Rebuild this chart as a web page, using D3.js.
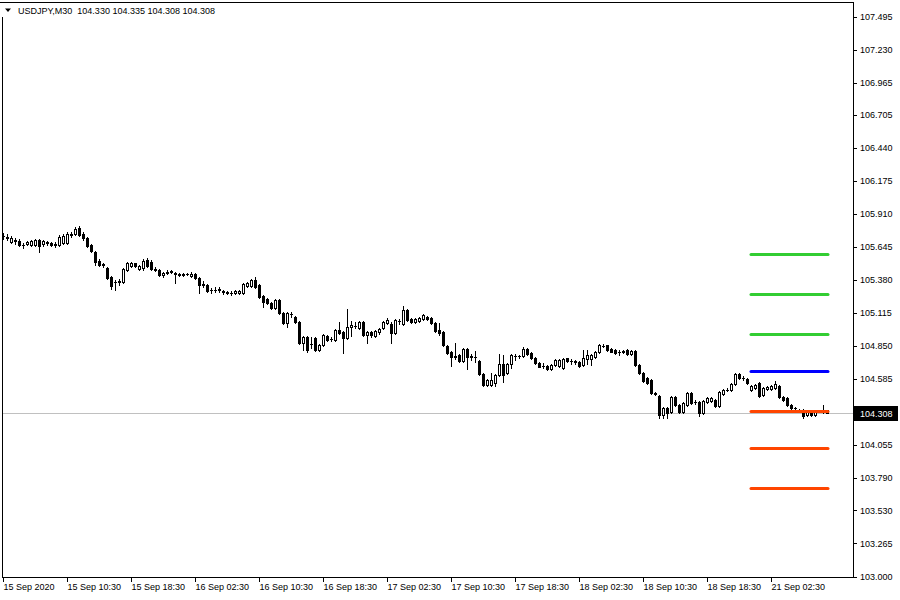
<!DOCTYPE html>
<html><head><meta charset="utf-8">
<script src="https://cdn.jsdelivr.net/npm/d3@7"></script>
<style>
html,body{margin:0;padding:0;background:#fff;}
svg{display:block;}
text{font-family:"Liberation Sans",Arial,sans-serif;font-size:9px;}
</style></head><body>
<svg id="c" width="900" height="600"></svg>
<script>
const symbolTitle = "USDJPY,M30";

const opens = [
105.726,105.718,105.678,105.694,105.686,105.654,105.662,105.654,105.654,105.694,
105.662,105.678,105.670,105.662,105.654,105.670,105.670,105.734,105.742,105.790,
105.742,105.710,105.654,105.598,105.526,105.502,105.470,105.398,105.358,105.358,
105.358,105.454,105.486,105.510,105.462,105.470,105.534,105.518,105.462,105.454,
105.414,105.438,105.438,105.430,105.414,105.422,105.422,105.406,105.422,105.390,
105.342,105.334,105.294,105.294,105.294,105.286,105.278,105.270,105.270,105.270,
105.270,105.326,105.326,105.374,105.334,105.246,105.222,105.190,105.150,105.214,
105.110,105.030,105.102,105.078,105.038,104.870,104.918,104.862,104.910,104.814,
104.854,104.926,104.902,104.894,104.974,104.958,104.910,104.998,105.006,104.990,
105.038,104.934,104.958,104.926,104.958,104.990,105.030,105.022,104.950,105.046,
105.022,105.134,105.062,105.038,105.046,105.062,105.078,105.070,105.030,104.974,
104.958,104.846,104.798,104.764,104.774,104.726,104.822,104.766,104.758,104.726,
104.622,104.534,104.534,104.550,104.614,104.702,104.630,104.702,104.766,104.766,
104.766,104.822,104.790,104.750,104.710,104.686,104.686,104.662,104.694,104.686,
104.670,104.750,104.726,104.726,104.718,104.694,104.742,104.742,104.758,104.798,
104.846,104.854,104.822,104.814,104.798,104.806,104.814,104.782,104.806,104.694,
104.630,104.590,104.574,104.470,104.446,104.294,104.350,104.318,104.438,104.374,
104.318,104.374,104.470,104.398,104.398,104.310,104.398,104.406,104.414,104.366,
104.462,104.494,104.494,104.542,104.622,104.590,104.582,104.494,104.510,104.550,
104.454,104.502,104.502,104.510,104.526,104.438,104.430,104.374,104.350,104.334,
104.334,104.294,104.326,104.294,104.326,104.318,104.330];

const highs = [
105.750,105.742,105.726,105.710,105.702,105.670,105.686,105.694,105.702,105.702,
105.694,105.686,105.678,105.678,105.734,105.742,105.758,105.758,105.798,105.806,
105.758,105.718,105.662,105.606,105.542,105.510,105.478,105.406,105.374,105.382,
105.470,105.518,105.518,105.512,105.494,105.542,105.550,105.534,105.478,105.462,
105.438,105.454,105.454,105.438,105.430,105.430,105.430,105.438,105.430,105.398,
105.366,105.342,105.310,105.318,105.318,105.294,105.286,105.286,105.294,105.294,
105.350,105.358,105.382,105.398,105.342,105.254,105.230,105.198,105.222,105.222,
105.118,105.118,105.118,105.086,105.046,104.926,104.926,104.918,104.918,104.862,
104.942,104.934,104.918,104.982,105.038,104.966,105.142,105.046,105.038,105.046,
105.046,104.966,104.966,104.974,104.990,105.046,105.070,105.038,105.062,105.062,
105.166,105.142,105.070,105.070,105.078,105.102,105.086,105.078,105.038,105.030,
104.966,104.854,104.806,104.870,104.782,104.830,104.830,104.782,104.806,104.734,
104.630,104.582,104.630,104.622,104.782,104.774,104.710,104.782,104.782,104.774,
104.838,104.830,104.798,104.758,104.718,104.710,104.694,104.702,104.742,104.742,
104.750,104.752,104.742,104.734,104.726,104.814,104.814,104.782,104.806,104.862,
104.862,104.856,104.830,104.822,104.814,104.814,104.822,104.814,104.814,104.702,
104.638,104.598,104.582,104.478,104.454,104.358,104.358,104.446,104.446,104.382,
104.398,104.478,104.478,104.414,104.406,104.414,104.438,104.438,104.422,104.486,
104.502,104.510,104.550,104.630,104.630,104.606,104.590,104.534,104.542,104.558,
104.518,104.526,104.534,104.566,104.534,104.446,104.438,104.382,104.358,104.342,
104.342,104.326,104.334,104.334,104.334,104.374,104.335];

const lows = [
105.702,105.694,105.670,105.662,105.646,105.630,105.654,105.646,105.646,105.598,
105.646,105.654,105.646,105.638,105.646,105.662,105.662,105.718,105.734,105.726,
105.694,105.638,105.598,105.494,105.486,105.478,105.382,105.302,105.294,105.334,
105.350,105.446,105.478,105.478,105.454,105.454,105.478,105.454,105.446,105.406,
105.398,105.422,105.430,105.350,105.406,105.406,105.414,105.398,105.382,105.270,
105.318,105.278,105.270,105.278,105.278,105.262,105.262,105.254,105.262,105.262,
105.262,105.318,105.318,105.310,105.230,105.158,105.182,105.142,105.142,105.102,
105.022,104.998,105.078,105.030,104.862,104.814,104.798,104.830,104.806,104.806,
104.846,104.886,104.886,104.886,104.942,104.790,104.902,104.926,104.990,104.982,
104.926,104.870,104.918,104.918,104.942,104.982,105.022,104.870,104.942,105.022,
105.014,105.046,105.030,105.030,105.038,105.054,105.054,105.022,104.958,104.934,
104.846,104.782,104.686,104.742,104.718,104.718,104.662,104.734,104.718,104.614,
104.526,104.526,104.526,104.526,104.606,104.558,104.622,104.670,104.734,104.750,
104.758,104.774,104.742,104.702,104.678,104.670,104.654,104.654,104.686,104.678,
104.662,104.718,104.702,104.702,104.678,104.686,104.702,104.694,104.750,104.790,
104.838,104.806,104.798,104.782,104.774,104.790,104.774,104.774,104.686,104.622,
104.558,104.542,104.462,104.454,104.270,104.270,104.270,104.310,104.366,104.310,
104.310,104.366,104.382,104.382,104.286,104.302,104.390,104.398,104.358,104.358,
104.454,104.486,104.486,104.534,104.582,104.574,104.542,104.486,104.502,104.438,
104.446,104.494,104.494,104.502,104.430,104.406,104.366,104.342,104.334,104.318,
104.270,104.286,104.286,104.286,104.318,104.310,104.308];

const closes = [
105.726,105.710,105.710,105.686,105.654,105.654,105.678,105.686,105.694,105.646,
105.686,105.670,105.654,105.660,105.718,105.726,105.742,105.742,105.782,105.734,
105.710,105.646,105.606,105.518,105.494,105.496,105.390,105.326,105.356,105.366,
105.462,105.510,105.510,105.486,105.486,105.526,105.486,105.462,105.460,105.414,
105.430,105.436,105.446,105.422,105.422,105.420,105.424,105.422,105.390,105.334,
105.334,105.286,105.292,105.296,105.302,105.278,105.270,105.268,105.286,105.286,
105.342,105.350,105.374,105.318,105.238,105.198,105.190,105.150,105.214,105.110,
105.030,105.110,105.100,105.038,104.870,104.918,104.814,104.860,104.814,104.854,
104.934,104.894,104.900,104.974,104.950,104.910,104.998,105.014,105.004,105.038,
104.934,104.958,104.934,104.966,104.982,105.038,105.054,104.950,105.054,105.044,
105.134,105.054,105.038,105.062,105.070,105.094,105.062,105.030,104.966,104.950,
104.854,104.790,104.758,104.758,104.726,104.822,104.758,104.760,104.756,104.622,
104.534,104.574,104.574,104.614,104.702,104.614,104.702,104.774,104.764,104.768,
104.822,104.782,104.750,104.710,104.678,104.684,104.662,104.694,104.734,104.734,
104.742,104.726,104.724,104.718,104.686,104.750,104.774,104.774,104.798,104.854,
104.844,104.814,104.798,104.790,104.796,104.798,104.782,104.806,104.694,104.630,
104.566,104.550,104.470,104.462,104.294,104.350,104.310,104.438,104.374,104.318,
104.390,104.470,104.390,104.396,104.310,104.406,104.430,104.430,104.366,104.478,
104.494,104.496,104.542,104.622,104.590,104.588,104.550,104.526,104.534,104.446,
104.510,104.518,104.526,104.542,104.438,104.414,104.374,104.350,104.348,104.332,
104.286,104.318,104.294,104.326,104.324,104.320,104.308];

const priceTicks = [107.495,107.230,106.965,106.705,106.440,106.175,105.910,105.645,
  105.380,105.115,104.850,104.585,104.055,103.790,103.530,103.265,103.000];
const timeTickIndex = [0,16,32,48,64,80,96,112,128,144,160,176,192];
const timeTickLabels = ["15 Sep 2020","15 Sep 10:30","15 Sep 18:30","16 Sep 02:30",
  "16 Sep 10:30","16 Sep 18:30","17 Sep 02:30","17 Sep 10:30","17 Sep 18:30",
  "18 Sep 02:30","18 Sep 10:30","18 Sep 18:30","21 Sep 02:30"];
const lastPrice = 104.308;
const resistanceLevels = [104.941, 105.262, 105.583];
const pivotLevel = [104.646];
const supportLevels = [104.322, 104.026, 103.704];
const levelStartIndex = 187;

// ---------- drawing ----------
const svg = d3.select("#c");
const n = closes.length;
const x = d3.scaleLinear().domain([0, n - 1]).range([3, 3 + 4 * (n - 1)]);
const y = d3.scaleLinear().domain([103.000, 107.495]).range([576.5, 16.5]);
const px = v => Math.round(x(v));
const py = v => Math.floor(y(v));

const plot = svg.append("g").attr("shape-rendering", "crispEdges");

// bid line
plot.append("line")
  .attr("x1", 3).attr("x2", 853)
  .attr("y1", py(lastPrice) + 0.5).attr("y2", py(lastPrice) + 0.5)
  .attr("stroke", "#C0C0C0");

// candles
const idx = d3.range(n);
const cg = plot.append("g");
const candle = cg.selectAll("g").data(idx).join("g");
candle.append("line")
  .attr("x1", i => px(i) + 0.5).attr("x2", i => px(i) + 0.5)
  .attr("y1", i => py(highs[i])).attr("y2", i => py(lows[i]) + 1)
  .attr("stroke", "#000");
candle.each(function (i) {
  const g = d3.select(this);
  const c = px(i);
  const t = Math.min(py(opens[i]), py(closes[i]));
  const b = Math.max(py(opens[i]), py(closes[i]));
  if (b - t < 1) {
    g.append("line").attr("x1", c - 1).attr("x2", c + 2)
      .attr("y1", t + 0.5).attr("y2", t + 0.5).attr("stroke", "#000");
  } else if (closes[i] > opens[i]) {
    g.append("rect").attr("x", c - 0.5).attr("y", t + 0.5)
      .attr("width", 2).attr("height", b - t)
      .attr("fill", "#fff").attr("stroke", "#000");
  } else {
    g.append("rect").attr("x", c - 1).attr("y", t)
      .attr("width", 3).attr("height", b - t + 1)
      .attr("fill", "#000");
  }
});

// level lines
const levels = [
  ...resistanceLevels.map(v => ({v, c: "#32CD32"})),
  ...pivotLevel.map(v => ({v, c: "#0000FF"})),
  ...supportLevels.map(v => ({v, c: "#FF4500"}))
];
svg.append("g").selectAll("line").data(levels).join("line")
  .attr("x1", x(levelStartIndex)).attr("x2", x(n - 1) + 1)
  .attr("y1", d => py(d.v) + 0.5).attr("y2", d => py(d.v) + 0.5)
  .attr("stroke", d => d.c).attr("stroke-width", 3)
  .attr("stroke-linecap", "round");

// frame
const frame = svg.append("g").attr("shape-rendering", "crispEdges").attr("stroke", "#000");
frame.append("line").attr("x1", 0).attr("x2", 854).attr("y1", 2.5).attr("y2", 2.5);
frame.append("line").attr("x1", 2.5).attr("x2", 2.5).attr("y1", 2).attr("y2", 578);
frame.append("line").attr("x1", 2).attr("x2", 854).attr("y1", 577.5).attr("y2", 577.5);
frame.append("line").attr("x1", 853.5).attr("x2", 853.5).attr("y1", 2).attr("y2", 578);

// price axis
const ya = d3.axisRight(y).tickValues(priceTicks).tickSize(4).tickPadding(3)
  .tickFormat(d3.format(".3f"));
const yg = svg.append("g").attr("transform", "translate(853,0)").call(ya);
yg.select(".domain").remove();
yg.selectAll("line").attr("stroke", "#000").attr("shape-rendering", "crispEdges");
yg.selectAll("text").attr("fill", "#000").style("font-family", "'Liberation Sans',Arial,sans-serif").style("font-size", "9px");

// current price label
const cpY = py(lastPrice);
svg.append("rect").attr("x", 854).attr("y", cpY - 7).attr("width", 44).attr("height", 15)
  .attr("fill", "#000");
svg.append("text").attr("x", 860).attr("y", cpY + 4)
  .attr("fill", "#fff").text(d3.format(".3f")(lastPrice));

// time axis
const xa = d3.axisBottom(x).tickValues(timeTickIndex).tickSize(4).tickPadding(2)
  .tickFormat((d, k) => timeTickLabels[k]);
const xg = svg.append("g").attr("transform", "translate(0,578)").call(xa);
xg.select(".domain").remove();
xg.selectAll(".tick").attr("transform", d => `translate(${px(d) + 0.5},0)`);
xg.selectAll("line").attr("stroke", "#000").attr("shape-rendering", "crispEdges");
xg.selectAll("text").attr("fill", "#000").attr("text-anchor", "start").attr("x", 0)
  .style("font-family", "'Liberation Sans',Arial,sans-serif").style("font-size", "9px");

// header
svg.append("rect").attr("x", 0).attr("y", 3).attr("width", 232).attr("height", 14).attr("fill", "#fff");
svg.append("path").attr("d", "M5,8.5 L11,8.5 L8,12 Z").attr("fill", "#000");
const L = n - 1;
const fmt = d3.format(".3f");
svg.append("text").attr("x", 18).attr("y", 14).style("white-space", "pre").attr("fill", "#000")
  .text(`${symbolTitle}  ${fmt(opens[L])} ${fmt(highs[L])} ${fmt(lows[L])} ${fmt(closes[L])}`);
</script>
</body></html>
